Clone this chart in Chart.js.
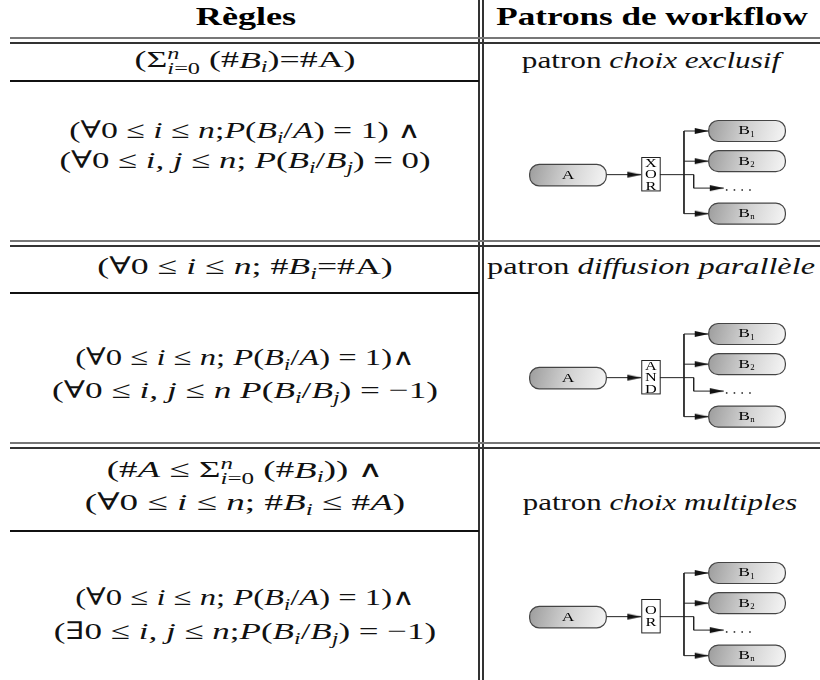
<!DOCTYPE html>
<html><head><meta charset="utf-8">
<script src="https://cdn.jsdelivr.net/npm/chart.js@4"></script>
<style>
html,body{margin:0;padding:0;background:#fff;}
body{width:820px;height:680px;position:relative;overflow:hidden;font-family:"Liberation Serif","DejaVu Serif",serif;color:#000;}
.ln{position:absolute;}
.t{position:absolute;white-space:nowrap;font-size:24px;line-height:1.15;transform-origin:50% 50%;color:#111;}
.hd{font-weight:bold;font-size:26px;color:#000;}
sub{font-size:0.68em;vertical-align:-0.28em;line-height:0;}
.lim{display:inline-block;vertical-align:-0.42em;font-size:0.68em;line-height:0.95;text-align:left;}
.lim span{display:block;}
.w{font-family:"DejaVu Serif",serif;font-size:0.95em;font-weight:normal;}
.dg{position:absolute;left:480px;width:340px;height:140px;}
</style></head>
<body>
<div id="lines"></div>
<div id="texts"></div>
<div class="dg" style="top:100px"><canvas id="d0"></canvas></div>
<div class="dg" style="top:303px"><canvas id="d1"></canvas></div>
<div class="dg" style="top:542px"><canvas id="d2"></canvas></div>
<script>
// ---------- content (data) ----------
const headers = ["Règles", "Patrons de workflow"];
const LIM = '<span class="lim"><span><i>n</i></span><span><i>i</i>=0</span></span>';
const AND = '<span class="w">∧</span>';
const ruleLines = [
  ['(Σ' + LIM + ' (#<i>B<sub>i</sub></i>)=#A)'],
  ['(∀0 ≤ <i>i</i> ≤ <i>n</i>;<i>P</i>(<i>B<sub>i</sub></i>/<i>A</i>) = 1) ' + AND,
   '(∀0 ≤ <i>i, j</i> ≤ <i>n</i>; <i>P</i>(<i>B<sub>i</sub></i>/<i>B<sub>j</sub></i>) = 0)'],
  ['(∀0 ≤ <i>i</i> ≤ <i>n</i>; #<i>B<sub>i</sub></i>=#A)'],
  ['(∀0 ≤ <i>i</i> ≤ <i>n</i>; <i>P</i>(<i>B<sub>i</sub></i>/<i>A</i>) = 1)' + AND,
   '(∀0 ≤ <i>i, j</i> ≤ <i>n</i> <i>P</i>(<i>B<sub>i</sub></i>/<i>B<sub>j</sub></i>) = −1)'],
  ['(#<i>A</i> ≤ Σ' + LIM + ' (#<i>B<sub>i</sub></i>)) ' + AND,
   '(∀0 ≤ <i>i</i> ≤ <i>n</i>; #<i>B<sub>i</sub></i> ≤ #<i>A</i>)'],
  ['(∀0 ≤ <i>i</i> ≤ <i>n</i>; <i>P</i>(<i>B<sub>i</sub></i>/<i>A</i>) = 1)' + AND,
   '(∃0 ≤ <i>i, j</i> ≤ <i>n</i>;<i>P</i>(<i>B<sub>i</sub></i>/<i>B<sub>j</sub></i>) = −1)']
];
const patternWord = "patron";
const patternNames = ["choix exclusif", "diffusion parallèle", "choix multiples"];
const gateLabels = [["X","O","R"], ["A","N","D"], ["O","R"]];
const sourceLabel = "A";
const branchLabels = ["B", "B", "B"];
const branchSubs = ["1", "2", "n"];
const dotsLabelCount = 4;

// ---------- layout ----------
const LCX = 244.5;
const textLayout = [
  // [html, cx, cy, width, cls]
  [headers[0], 246, 17, 100, 'hd'],
  [headers[1], 652, 17, 312, 'hd'],
  [ruleLines[0][0], LCX, 61, 221],
  [ruleLines[1][0], LCX, 131, 352],
  [ruleLines[1][1], LCX, 161, 371],
  [ruleLines[2][0], LCX, 267, 295],
  [ruleLines[3][0], LCX, 358, 340],
  [ruleLines[3][1], LCX, 391, 386],
  [ruleLines[4][0], LCX, 471, 277],
  [ruleLines[4][1], LCX, 503, 320],
  [ruleLines[5][0], LCX, 598, 340],
  [ruleLines[5][1], LCX, 632, 382],
  [patternWord + ' <i>' + patternNames[0] + '</i>', 650.5, 61, 259],
  [patternWord + ' <i>' + patternNames[1] + '</i>', 651, 267, 328],
  [patternWord + ' <i>' + patternNames[2] + '</i>', 660, 503, 274]
];
const lineLayout = [
  // [x, y, w, h, color]
  [478, 0, 1.6, 680, '#333'], [482, 0, 1.6, 680, '#333'],
  [10, 37, 810, 2, '#777'], [10, 42, 810, 2, '#333'],
  [10, 79.5, 469, 2, '#111'],
  [10, 239.5, 810, 2, '#777'], [10, 244.5, 810, 2, '#333'],
  [10, 291.5, 469, 2, '#111'],
  [10, 442, 810, 2, '#777'], [10, 447, 810, 2, '#333'],
  [10, 530, 469, 2, '#111']
];
const diagram = {
  source: {x1: 46, x2: 125, yc: 75.5, h: 23},
  gate: {x1: 161, x2: 180, y1: 56, y2: 92},
  branches: [{x1: 230.5, x2: 309.5, yc: 28, h: 22.6}, {x1: 230.5, x2: 309.5, yc: 60.5, h: 22.6}, {x1: 230.5, x2: 309.5, yc: 117, h: 22.6}],
  trunkX: 205, outTurnX: 215, dotsY: 89.5, dotsArrowX: 246,
  dotsX: [249, 257, 265, 273]
};
const LABEL_STRETCH = 1.35;

// ---------- table lines & text ----------
const linesEl = document.getElementById('lines');
lineLayout.forEach(([x,y,w,h,c]) => {
  const d = document.createElement('div'); d.className = 'ln';
  d.style.cssText = `left:${x}px;top:${y}px;width:${w}px;height:${h}px;background:${c}`;
  linesEl.appendChild(d);
});
const textsEl = document.getElementById('texts');
const textEls = textLayout.map(([html,cx,cy,w,cls]) => {
  const d = document.createElement('div'); d.className = 't' + (cls ? ' ' + cls : '');
  d.innerHTML = html; d.style.left = cx + 'px'; d.style.top = cy + 'px';
  d.style.transform = 'translate(-50%,-50%)';
  textsEl.appendChild(d); return [d, w];
});
function fitTexts(){
  textEls.forEach(([d,w]) => {
    const nat = d.offsetWidth;
    const k = nat > 0 ? w / nat : 1;
    d.style.transform = `translate(-50%,-50%) scaleX(${k.toFixed(4)})`;
  });
}
fitTexts();
if (document.fonts && document.fonts.ready) document.fonts.ready.then(fitTexts);

// ---------- diagrams with Chart.js ----------
function arrowImg(){
  const c = document.createElement('canvas'); c.width = 30; c.height = 8;
  const g = c.getContext('2d'); g.fillStyle = '#111';
  g.beginPath(); g.moveTo(1,1); g.lineTo(15,4); g.lineTo(1,7); g.closePath(); g.fill();
  return c;
}
const ARROW = arrowImg();

function stretchText(ctx, txt, x, y, font, sx){
  ctx.save(); ctx.translate(x, y); ctx.scale(sx, 1); ctx.font = font;
  ctx.fillText(txt, 0, 0); ctx.restore();
}

const nodePlugin = {
  id: 'nodes',
  afterDatasetsDraw(chart, args, opts){
    const {ctx} = chart; const xs = chart.scales.x, ys = chart.scales.y;
    const box = (b, label, sub) => {
      const x1 = xs.getPixelForValue(b.x1), x2 = xs.getPixelForValue(b.x2);
      const y1 = ys.getPixelForValue(b.yc - b.h/2), y2 = ys.getPixelForValue(b.yc + b.h/2);
      const top = Math.min(y1,y2), bot = Math.max(y1,y2);
      ctx.save();
      const gr = ctx.createLinearGradient(x1, top, x2, bot);
      gr.addColorStop(0, '#9c9c9c'); gr.addColorStop(0.5, '#d2d2d2'); gr.addColorStop(1, '#f6f6f6');
      ctx.fillStyle = gr; ctx.strokeStyle = '#444'; ctx.lineWidth = 1.2;
      ctx.beginPath(); ctx.roundRect(x1, top, x2 - x1, bot - top, 9.5); ctx.fill(); ctx.stroke();
      ctx.fillStyle = '#000'; ctx.textAlign = 'center'; ctx.textBaseline = 'middle';
      const cx = (x1 + x2) / 2, cy = (top + bot) / 2;
      if (sub) {
        stretchText(ctx, label, cx - 3, cy, '13px "Liberation Serif", serif', LABEL_STRETCH);
        stretchText(ctx, sub, cx + 5.5, cy + 3.5, '8px "Liberation Serif", serif', 1.1);
      } else stretchText(ctx, label, cx, cy + 0.5, '13px "Liberation Serif", serif', LABEL_STRETCH);
      ctx.restore();
    };
    const d = opts.layout;
    box(d.source, sourceLabel);
    d.branches.forEach((b, i) => box(b, branchLabels[i], branchSubs[i]));
    // gate
    const g = d.gate;
    const gx1 = xs.getPixelForValue(g.x1), gx2 = xs.getPixelForValue(g.x2);
    const gy1 = ys.getPixelForValue(g.y1), gy2 = ys.getPixelForValue(g.y2);
    ctx.save();
    ctx.fillStyle = '#fff'; ctx.strokeStyle = '#222'; ctx.lineWidth = 1;
    ctx.fillRect(gx1, gy1, gx2 - gx1, gy2 - gy1);
    ctx.strokeRect(gx1 + 0.5, gy1 + 0.5, gx2 - gx1, gy2 - gy1);
    const letters = opts.letters; const step = 11.5;
    const mid = (gy1 + gy2) / 2;
    ctx.fillStyle = '#000'; ctx.textAlign = 'center'; ctx.textBaseline = 'middle';
    letters.forEach((L, i) => stretchText(ctx, L, (gx1 + gx2) / 2 + 0.5, mid + 1 + (i - (letters.length - 1) / 2) * step,
      '13px "Liberation Serif", serif', 1.25));
    ctx.restore();
  }
};

function connector(points){
  const n = points.length;
  return {
    type: 'scatter', showLine: true, data: points.map(p => ({x: p[0], y: p[1]})),
    borderColor: '#222', borderWidth: 1, tension: 0, fill: false,
    pointRadius: c => c.dataIndex === n - 1 ? 5 : 0,
    pointHoverRadius: 0,
    pointStyle: ARROW, pointBackgroundColor: '#111', pointBorderWidth: 0
  };
}

function makeDiagram(id, letters){
  const d = diagram;
  const s = d.source, g = d.gate;
  const gy = s.yc - 0.5;
  const datasets = [
    connector([[s.x2, gy], [g.x1, gy]]),
    {type: 'scatter', showLine: true, data: [{x: g.x2, y: gy}, {x: d.outTurnX, y: gy}, {x: d.outTurnX, y: d.dotsY}],
     borderColor: '#222', borderWidth: 1, pointRadius: 0, pointHoverRadius: 0},
    connector([[d.outTurnX, d.dotsY], [d.dotsArrowX, d.dotsY]]),
    {type: 'scatter', showLine: true, data: [{x: d.trunkX, y: d.branches[0].yc}, {x: d.trunkX, y: d.branches[2].yc}],
     borderColor: '#222', borderWidth: 1, pointRadius: 0, pointHoverRadius: 0},
    ...d.branches.map(b => connector([[d.trunkX, b.yc], [b.x1, b.yc]])),
    {type: 'scatter', data: d.dotsX.slice(0, dotsLabelCount).map(x => ({x, y: d.dotsY + 2})),
     pointRadius: 1.1, pointStyle: 'rect', backgroundColor: '#222', borderWidth: 0, pointHoverRadius: 1.1}
  ];
  return new Chart(document.getElementById(id), {
    type: 'scatter',
    data: {datasets},
    options: {
      responsive: true, maintainAspectRatio: false, animation: false, events: [],
      layout: {padding: 0},
      scales: {
        x: {type: 'linear', min: 0, max: 340, display: false},
        y: {type: 'linear', min: 0, max: 140, reverse: true, display: false}
      },
      plugins: {legend: {display: false}, tooltip: {enabled: false}, nodes: {layout: d, letters}}
    },
    plugins: [nodePlugin]
  });
}
gateLabels.forEach((L, i) => makeDiagram('d' + i, L));
</script>
</body></html>
